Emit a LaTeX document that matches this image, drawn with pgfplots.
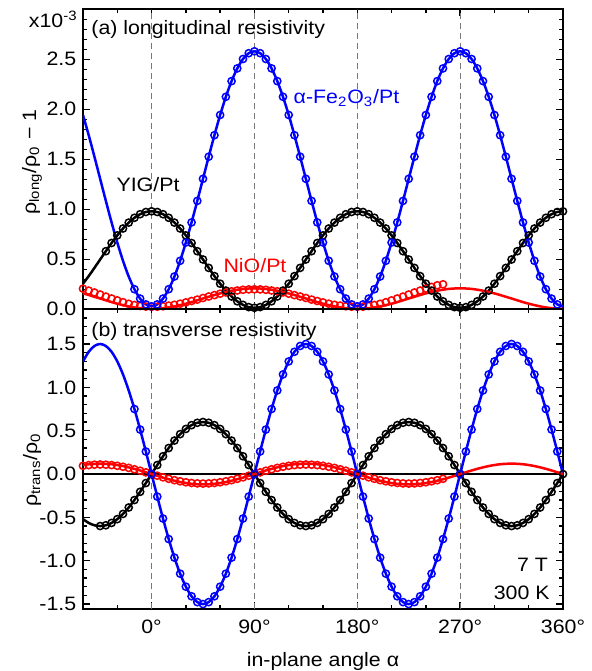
\documentclass[border=0pt]{standalone}
\usepackage{fontspec}
\setmainfont{Liberation Sans}[FakeStretch=1.1]
\usepackage{pgfplots}
\usepackage{pgfplotstable}
\pgfplotsset{compat=1.18}
\definecolor{myblue}{RGB}{0,0,255}
\definecolor{myred}{RGB}{255,0,0}
\definecolor{dgray}{RGB}{120,120,120}

\pgfplotstableread{
a Lb Lk Lr Lrc Tb Tk Tr Trc
-60 1.943 0.256 0.159 0.206 1.299 -0.520 0.104 0.095
-55 1.741 0.332 0.143 0.187 1.410 -0.564 0.113 0.103
-50 1.526 0.414 0.125 0.168 1.477 -0.591 0.118 0.108
-45 1.305 0.498 0.108 0.148 1.500 -0.600 0.120 0.110
-40 1.084 0.581 0.090 0.127 1.477 -0.591 0.118 0.108
-35 0.869 0.663 0.072 0.108 1.410 -0.564 0.113 0.103
-30 0.668 0.739 0.056 0.089 1.299 -0.520 0.104 0.095
-25 0.485 0.808 0.042 0.071 1.149 -0.460 0.092 0.084
-20 0.328 0.867 0.029 0.055 0.964 -0.386 0.077 0.071
-15 0.201 0.915 0.019 0.043 0.750 -0.300 0.060 0.055
-10 0.107 0.951 0.011 0.033 0.513 -0.205 0.041 0.038
-5 0.049 0.973 0.007 0.027 0.260 -0.104 0.021 0.019
0 0.030 0.980 0.005 0.025 0.000 0.000 0.000 0.000
5 0.049 0.973 0.007 0.026 -0.260 0.104 -0.021 -0.019
10 0.107 0.951 0.011 0.030 -0.513 0.205 -0.041 -0.038
15 0.201 0.915 0.019 0.037 -0.750 0.300 -0.060 -0.055
20 0.328 0.867 0.029 0.045 -0.964 0.386 -0.077 -0.071
25 0.485 0.808 0.042 0.056 -1.149 0.460 -0.092 -0.084
30 0.668 0.739 0.056 0.069 -1.299 0.520 -0.104 -0.095
35 0.869 0.663 0.072 0.083 -1.410 0.564 -0.113 -0.103
40 1.084 0.581 0.090 0.097 -1.477 0.591 -0.118 -0.108
45 1.305 0.498 0.108 0.113 -1.500 0.600 -0.120 -0.110
50 1.526 0.414 0.125 0.128 -1.477 0.591 -0.118 -0.108
55 1.741 0.332 0.143 0.142 -1.410 0.564 -0.113 -0.103
60 1.943 0.256 0.159 0.156 -1.299 0.520 -0.104 -0.095
65 2.125 0.187 0.173 0.169 -1.149 0.460 -0.092 -0.084
70 2.282 0.128 0.186 0.180 -0.964 0.386 -0.077 -0.071
75 2.409 0.080 0.196 0.188 -0.750 0.300 -0.060 -0.055
80 2.503 0.044 0.204 0.195 -0.513 0.205 -0.041 -0.038
85 2.561 0.022 0.208 0.199 -0.260 0.104 -0.021 -0.019
90 2.580 0.015 0.210 0.200 0.000 0.000 0.000 0.000
95 2.561 0.022 0.208 0.199 0.260 -0.104 0.021 0.019
100 2.503 0.044 0.204 0.195 0.513 -0.205 0.041 0.038
105 2.409 0.080 0.196 0.188 0.750 -0.300 0.060 0.055
110 2.282 0.128 0.186 0.180 0.964 -0.386 0.077 0.071
115 2.125 0.187 0.173 0.169 1.149 -0.460 0.092 0.084
120 1.943 0.256 0.159 0.156 1.299 -0.520 0.104 0.095
125 1.741 0.332 0.143 0.142 1.410 -0.564 0.113 0.103
130 1.526 0.414 0.125 0.128 1.477 -0.591 0.118 0.108
135 1.305 0.498 0.108 0.113 1.500 -0.600 0.120 0.110
140 1.084 0.581 0.090 0.097 1.477 -0.591 0.118 0.108
145 0.869 0.663 0.072 0.083 1.410 -0.564 0.113 0.103
150 0.668 0.739 0.056 0.069 1.299 -0.520 0.104 0.095
155 0.485 0.808 0.042 0.056 1.149 -0.460 0.092 0.084
160 0.328 0.867 0.029 0.045 0.964 -0.386 0.077 0.071
165 0.201 0.915 0.019 0.037 0.750 -0.300 0.060 0.055
170 0.107 0.951 0.011 0.030 0.513 -0.205 0.041 0.038
175 0.049 0.973 0.007 0.026 0.260 -0.104 0.021 0.019
180 0.030 0.980 0.005 0.025 0.000 0.000 0.000 0.000
185 0.049 0.973 0.007 0.026 -0.260 0.104 -0.021 -0.019
190 0.107 0.951 0.011 0.033 -0.513 0.205 -0.041 -0.038
195 0.201 0.915 0.019 0.043 -0.750 0.300 -0.060 -0.055
200 0.328 0.867 0.029 0.055 -0.964 0.386 -0.077 -0.071
205 0.485 0.808 0.042 0.071 -1.149 0.460 -0.092 -0.084
210 0.668 0.739 0.056 0.089 -1.299 0.520 -0.104 -0.095
215 0.869 0.663 0.072 0.108 -1.410 0.564 -0.113 -0.103
220 1.084 0.581 0.090 0.127 -1.477 0.591 -0.118 -0.108
225 1.305 0.498 0.108 0.148 -1.500 0.600 -0.120 -0.110
230 1.526 0.414 0.125 0.168 -1.477 0.591 -0.118 -0.108
235 1.741 0.332 0.143 0.187 -1.410 0.564 -0.113 -0.103
240 1.943 0.256 0.159 0.206 -1.299 0.520 -0.104 -0.095
245 2.125 0.187 0.173 0.224 -1.149 0.460 -0.092 -0.084
250 2.282 0.128 0.186 0.240 -0.964 0.386 -0.077 -0.071
255 2.409 0.080 0.196 0.250 -0.750 0.300 -0.060 -0.055
260 2.503 0.044 0.204 nan -0.513 0.205 -0.041 nan
265 2.561 0.022 0.208 nan -0.260 0.104 -0.021 nan
270 2.580 0.015 0.210 nan 0.000 0.000 0.000 nan
275 2.561 0.022 0.208 nan 0.260 -0.104 0.021 nan
280 2.503 0.044 0.204 nan 0.513 -0.205 0.041 nan
285 2.409 0.080 0.196 nan 0.750 -0.300 0.060 nan
290 2.282 0.128 0.186 nan 0.964 -0.386 0.077 nan
295 2.125 0.187 0.173 nan 1.149 -0.460 0.092 nan
300 1.943 0.256 0.159 nan 1.299 -0.520 0.104 nan
305 1.741 0.332 0.143 nan 1.410 -0.564 0.113 nan
310 1.526 0.414 0.125 nan 1.477 -0.591 0.118 nan
315 1.305 0.498 0.108 nan 1.500 -0.600 0.120 nan
320 1.084 0.581 0.090 nan 1.477 -0.591 0.118 nan
325 0.869 0.663 0.072 nan 1.410 -0.564 0.113 nan
330 0.668 0.739 0.056 nan 1.299 -0.520 0.104 nan
335 0.485 0.808 0.042 nan 1.149 -0.460 0.092 nan
340 0.328 0.867 0.029 nan 0.964 -0.386 0.077 nan
345 0.201 0.915 0.019 nan 0.750 -0.300 0.060 nan
350 0.107 0.951 0.011 nan 0.513 -0.205 0.041 nan
355 0.049 0.973 0.007 nan 0.260 -0.104 0.021 nan
360 0.030 0.980 0.005 nan 0.000 0.000 0.000 nan
}\datatab

\pgfplotsset{
  panel/.style={scale only axis, width=240pt, height=150pt, xmin=-60, xmax=360,
    axis line style={line width=0.9pt},
    tick style={black, line width=0.7pt},
    major tick length=3.5pt, minor tick length=2pt, tick align=inside,
    xtick={0,90,180,270,360},
    minor xtick={-30,30,60,120,150,210,240,300,330},
    /pgf/number format/assume math mode=true,
    yticklabel style={inner sep=3.2pt},
  },
  fitline/.style={line width=1.25pt, smooth, no marks},
  circ/.style={only marks, mark=o, mark size=1.8pt, mark options={line width=0.75pt}},
}
\tikzset{vdash/.style={dgray, line width=0.6pt, dash pattern=on 3pt off 2pt}}

\begin{document}
\fontsize{9.7}{11.6}\selectfont
\begin{tikzpicture}
\path[use as bounding box] (-41.5pt,-30.85pt) rectangle (254.5pt,304.65pt);

% ---------- (a) longitudinal ----------
\begin{axis}[panel, at={(0pt,150pt)}, anchor=south west,
  ymin=0, ymax=3,
  ytick={0,0.5,1,1.5,2,2.5,3},
  yticklabels={0.0,0.5,1.0,1.5,2.0,2.5,},
  minor ytick={0.1,0.2,0.3,0.4,0.6,0.7,0.8,0.9,1.1,1.2,1.3,1.4,1.6,1.7,1.8,1.9,2.1,2.2,2.3,2.4,2.6,2.7,2.8,2.9},
  xticklabels={}]
\draw[vdash] (axis cs:0,0) -- (axis cs:0,3);
\draw[vdash] (axis cs:90,0) -- (axis cs:90,3);
\draw[vdash] (axis cs:180,0) -- (axis cs:180,3);
\draw[vdash] (axis cs:270,0) -- (axis cs:270,3);
\addplot[myblue, fitline] table[x=a,y=Lb]{\datatab};
\addplot[black, fitline] table[x=a,y=Lk]{\datatab};
\addplot[myred, fitline] table[x=a,y=Lr]{\datatab};
\addplot[myred, circ] table[x=a,y=Lrc]{\datatab};
\addplot[black, circ, restrict x to domain=-40:360] table[x=a,y=Lk]{\datatab};
\addplot[myblue, circ, restrict x to domain=-15:355] table[x=a,y=Lb]{\datatab};
\end{axis}

% ---------- (b) transverse ----------
\begin{axis}[panel, at={(0pt,0pt)}, anchor=south west,
  ymin=-1.56, ymax=1.9,
  ytick={-1.5,-1,-0.5,0,0.5,1,1.5},
  yticklabels={-1.5,-1.0,-0.5,0.0,0.5,1.0,1.5},
  minor ytick={-1.4,-1.3,-1.2,-1.1,-0.9,-0.8,-0.7,-0.6,-0.4,-0.3,-0.2,-0.1,0.1,0.2,0.3,0.4,0.6,0.7,0.8,0.9,1.1,1.2,1.3,1.4,1.6,1.7,1.8},
  xticklabels={0°,90°,180°,270°,360°},
  xticklabel style={anchor=base, yshift=-12pt}]
\draw[vdash] (axis cs:0,-1.56) -- (axis cs:0,1.9);
\draw[vdash] (axis cs:90,-1.56) -- (axis cs:90,1.9);
\draw[vdash] (axis cs:180,-1.56) -- (axis cs:180,1.9);
\draw[vdash] (axis cs:270,-1.56) -- (axis cs:270,1.9);
\draw[black, line width=0.8pt] (axis cs:-60,0) -- (axis cs:360,0);
\addplot[myblue, fitline] table[x=a,y=Tb]{\datatab};
\addplot[black, fitline] table[x=a,y=Tk]{\datatab};
\addplot[myred, fitline] table[x=a,y=Tr]{\datatab};
\addplot[myred, circ] table[x=a,y=Trc]{\datatab};
\addplot[black, circ, restrict x to domain=-45:360] table[x=a,y=Tk]{\datatab};
\addplot[myblue, circ, restrict x to domain=-15:355] table[x=a,y=Tb]{\datatab};
\end{axis}

% ---------- texts ----------
\node[anchor=base east, inner sep=0pt] at (-2.5pt,290.65pt) {x10\textsuperscript{-3}};
\node[rotate=90, anchor=center, inner sep=0pt] at (-25.5pt,223.65pt) {ρ\textsubscript{long}/ρ\textsubscript{0} − 1};
\node[rotate=90, anchor=center, inner sep=0pt] at (-25.5pt,69.65pt) {ρ\textsubscript{trans}/ρ\textsubscript{0}};
\node[anchor=base west, inner sep=0pt] at (4pt,287.15pt) {(a) longitudinal resistivity};
\node[anchor=base west, inner sep=0pt] at (4pt,136.15pt) {(b) transverse resistivity};
\node[anchor=base, inner sep=0pt] at (32.5pt,208.9pt) {YIG/Pt};
\node[anchor=base, inner sep=0pt, text=myred] at (86pt,168.3pt) {NiO/Pt};
\node[anchor=base, inner sep=0pt, text=myblue] at (131.75pt,253pt) {α-Fe\textsubscript{2}O\textsubscript{3}/Pt};
\node[anchor=base east, inner sep=0pt] at (232.65pt,18.8pt) {7 T};
\node[anchor=base east, inner sep=0pt] at (233.5pt,4.65pt) {300 K};
\node[anchor=base, inner sep=0pt] at (120pt,-28.6pt) {in-plane angle α};
\end{tikzpicture}
\end{document}
